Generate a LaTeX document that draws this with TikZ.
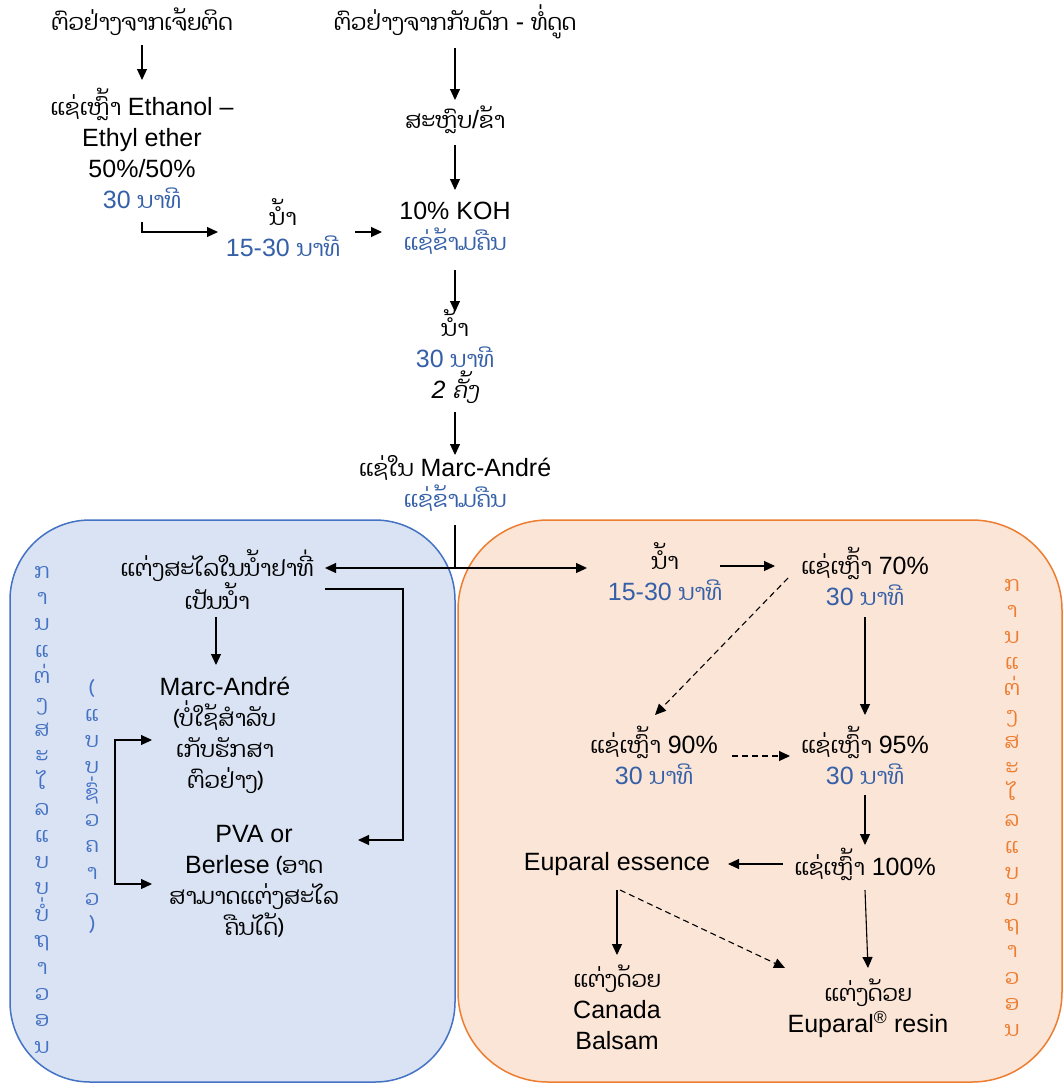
\documentclass[tikz,border=0pt]{standalone}
\usepackage{fontspec}
\setmainfont{Liberation Sans}
\newfontfamily\lao[Script=Lao,Scale=0.9]{Dhyana}
\newfontfamily\laoit[Script=Lao,Scale=0.9,FakeSlant=0.2]{Dhyana}
\usetikzlibrary{arrows.meta}
\definecolor{leftfill}{HTML}{DAE3F3}
\definecolor{leftline}{HTML}{4472C4}
\definecolor{rightfill}{HTML}{FBE5D6}
\definecolor{rightline}{HTML}{ED7D31}
\definecolor{tblue}{HTML}{3560A8}
\newcommand\bluetx[1]{\textcolor{tblue}{#1}}
\tikzset{
  txt/.style={align=center, font=\fontsize{25}{31}\selectfont, inner sep=0pt},
  arr/.style={line width=1.1pt, -{Triangle[length=11pt,width=10pt]}},
  darr/.style={arr, dash pattern=on 6pt off 4pt},
  plain/.style={line width=1.1pt},
  vtxt/.style={font=\fontsize{23}{23}\selectfont\lao, anchor=base, inner sep=0pt},
  leftbox/.style={draw=leftline, fill=leftfill, line width=1.5pt, rounded corners=80pt},
  rightbox/.style={draw=rightline, fill=rightfill, line width=1.5pt, rounded corners=90pt},
}
\begin{document}
\begin{tikzpicture}[x=1pt,y=-1pt]
\useasboundingbox (0,0) rectangle (1063,1084);
% panels
\path[leftbox] (10,520) rectangle (455,1082);
\path[rightbox] (458,520) rectangle (1062,1082);

% vertical texts
\foreach \c [count=\i] in {ກ,າ,ນ,ແ,ຕ່,ງ,ສ,ະ,ໄ,ລ,ແ,ບ,ບ,ບໍ່,ຖ,າ,ວ,ອ,ນ}
  \node[vtxt, text=leftline] (va\i) at (42,{578+(\i-1)*26.4}) {\c};
\foreach \c [count=\i] in {{(},ແ,ບ,ບ,ຊົ່,ວ,ຄ,າ,ວ,{)}}
  \node[vtxt, text=leftline] (vb\i) at (92,{695+(\i-1)*26.3}) {\c};
\foreach \c [count=\i] in {ກ,າ,ນ,ແ,ຕ່,ງ,ສ,ະ,ໄ,ລ,ແ,ບ,ບ,ຖ,າ,ວ,ອ,ນ}
  \node[vtxt, text=rightline] (vc\i) at (1012,{591+(\i-1)*26.2}) {\c};

% top nodes
\node[txt] (n1) at (142,22) {\lao ຕົວຢ່າງຈາກເຈ້ຍຕິດ};
\node[txt] (n2) at (142,148.5) {{\lao ແຊ່ເຫຼົ້າ} Ethanol –\\Ethyl ether\\50\%/50\%\\\bluetx{30 {\lao ນາທີ}}};
\node[txt] (n3) at (455,22) {{\lao ຕົວຢ່າງຈາກກັບດັກ} - {\lao ທໍ່ດູດ}};
\node[txt] (n4) at (455,120) {{\lao ສະຫຼົບ}/{\lao ຂ້າ}};
\node[txt] (n5) at (455,228) {10\% KOH\\\bluetx{\lao ແຊ່ຂ້າມຄືນ}};
\node[txt] (n6) at (283,228) {{\lao ນ້ຳ}\\\bluetx{15-30 {\lao ນາທີ}}};
\node[txt] (n7) at (455,357) {{\lao ນ້ຳ}\\\bluetx{30 {\lao ນາທີ}}\\\textit{2} {\laoit ຄັ້ງ}};
\node[txt] (n8) at (455,483) {{\lao ແຊ່ໃນ} Marc-André\\\bluetx{\lao ແຊ່ຂ້າມຄືນ}};
\coordinate (j) at (455,568);

% left panel nodes
\node[txt] (n9) at (217,580) {{\lao ແຕ່ງສະໄລໃນນ້ຳຢາທີ່}\\{\lao ເປັນນ້ຳ}};
\node[txt] (n10) at (225,735) {Marc-André\\{\lao (ບໍ່ໃຊ້ສຳລັບ}\\{\lao ເກັບຮັກສາ}\\{\lao ຕົວຢ່າງ)}};
\node[txt] (n11) at (254,882) {PVA or\\Berlese {\lao (ອາດ}\\{\lao ສາມາດແຕ່ງສະໄລ}\\{\lao ຄືນໄດ້)}};

% right panel nodes
\node[txt] (n12) at (665,572) {{\lao ນ້ຳ}\\\bluetx{15-30 {\lao ນາທີ}}};
\node[txt] (n13) at (865,576) {{\lao ແຊ່ເຫຼົ້າ} 70\%\\\bluetx{30 {\lao ນາທີ}}};
\node[txt] (n14) at (654,755) {{\lao ແຊ່ເຫຼົ້າ} 90\%\\\bluetx{30 {\lao ນາທີ}}};
\node[txt] (n15) at (865,755) {{\lao ແຊ່ເຫຼົ້າ} 95\%\\\bluetx{30 {\lao ນາທີ}}};
\node[txt] (n16) at (865,864) {{\lao ແຊ່ເຫຼົ້າ} 100\%};
\node[txt] (n17) at (617,864) {Euparal essence};
\node[txt] (n18) at (617,1007) {{\lao ແຕ່ງດ້ວຍ}\\Canada\\Balsam};
\node[txt] (n19) at (868,1008) {{\lao ແຕ່ງດ້ວຍ}\\Euparal\textsuperscript{®} resin};

% connectors top
\draw[arr] ([yshift=-23pt]n1.center) -- ([yshift=68.5pt]n2.center);
\draw[arr] ([yshift=-26pt]n3.center) -- ([yshift=20pt]n4.center);
\draw[arr] ([yshift=-25pt]n4.center) -- ([yshift=38pt]n5.center);
\draw[arr] ([yshift=-73.5pt]n2.center) |- ([xshift=-65pt,yshift=-4pt]n6.center);
\draw[arr] ([xshift=72pt,yshift=-4pt]n6.center) -- ([xshift=-73pt,yshift=-4pt]n5.center);
\draw[arr] ([yshift=-42pt]n5.center) -- ([yshift=45pt]n7.center);
\draw[arr] ([yshift=-55pt]n7.center) -- ([yshift=28pt]n8.center);
\draw[plain] ([yshift=-42pt]n8.center) -- (j);
\draw[arr] (j) -- ([xshift=108pt,yshift=12pt]n9.center);
\draw[arr] (j) -- ([xshift=-78pt,yshift=4pt]n12.center);

% left panel connectors
\draw[arr] ([xshift=-1pt,yshift=-37pt]n9.center) -- ([xshift=-9pt,yshift=70pt]n10.center);
\draw[arr] ([xshift=108pt,yshift=-9pt]n9.center) -- ++(78,0) |- ([xshift=104pt,yshift=42pt]n11.center);
\draw[line width=1.1pt, {Triangle[length=11pt,width=10pt]}-{Triangle[length=11pt,width=10pt]}]
  ([xshift=-73pt,yshift=-5pt]n10.center) -- ++(-37,0) |- ([xshift=-102pt,yshift=-2pt]n11.center);

% right panel connectors
\draw[arr] ([xshift=55pt,yshift=6pt]n12.center) -- ([xshift=-90pt,yshift=10pt]n13.center);
\draw[darr] ([xshift=-77pt,yshift=-2pt]n13.center) -- ([xshift=1pt,yshift=40pt]n14.center);
\draw[arr] ([yshift=-41pt]n13.center) -- ([yshift=40pt]n15.center);
\draw[darr] ([xshift=78pt,yshift=-1pt]n14.center) -- ([xshift=-75pt,yshift=-1pt]n15.center);
\draw[arr] ([yshift=-40pt]n15.center) -- ([yshift=19pt]n16.center);
\draw[arr] ([xshift=-82pt]n16.center) -- ([xshift=111pt]n17.center);
\draw[arr] ([yshift=-26pt]n17.center) -- ([yshift=52pt]n18.center);
\draw[darr] ([xshift=3pt,yshift=-26pt]n17.center) -- ([xshift=-83pt,yshift=40pt]n19.center);
\draw[arr] ([yshift=-26pt]n16.center) -- ([xshift=0pt,yshift=40pt]n19.center);
\end{tikzpicture}
\end{document}
